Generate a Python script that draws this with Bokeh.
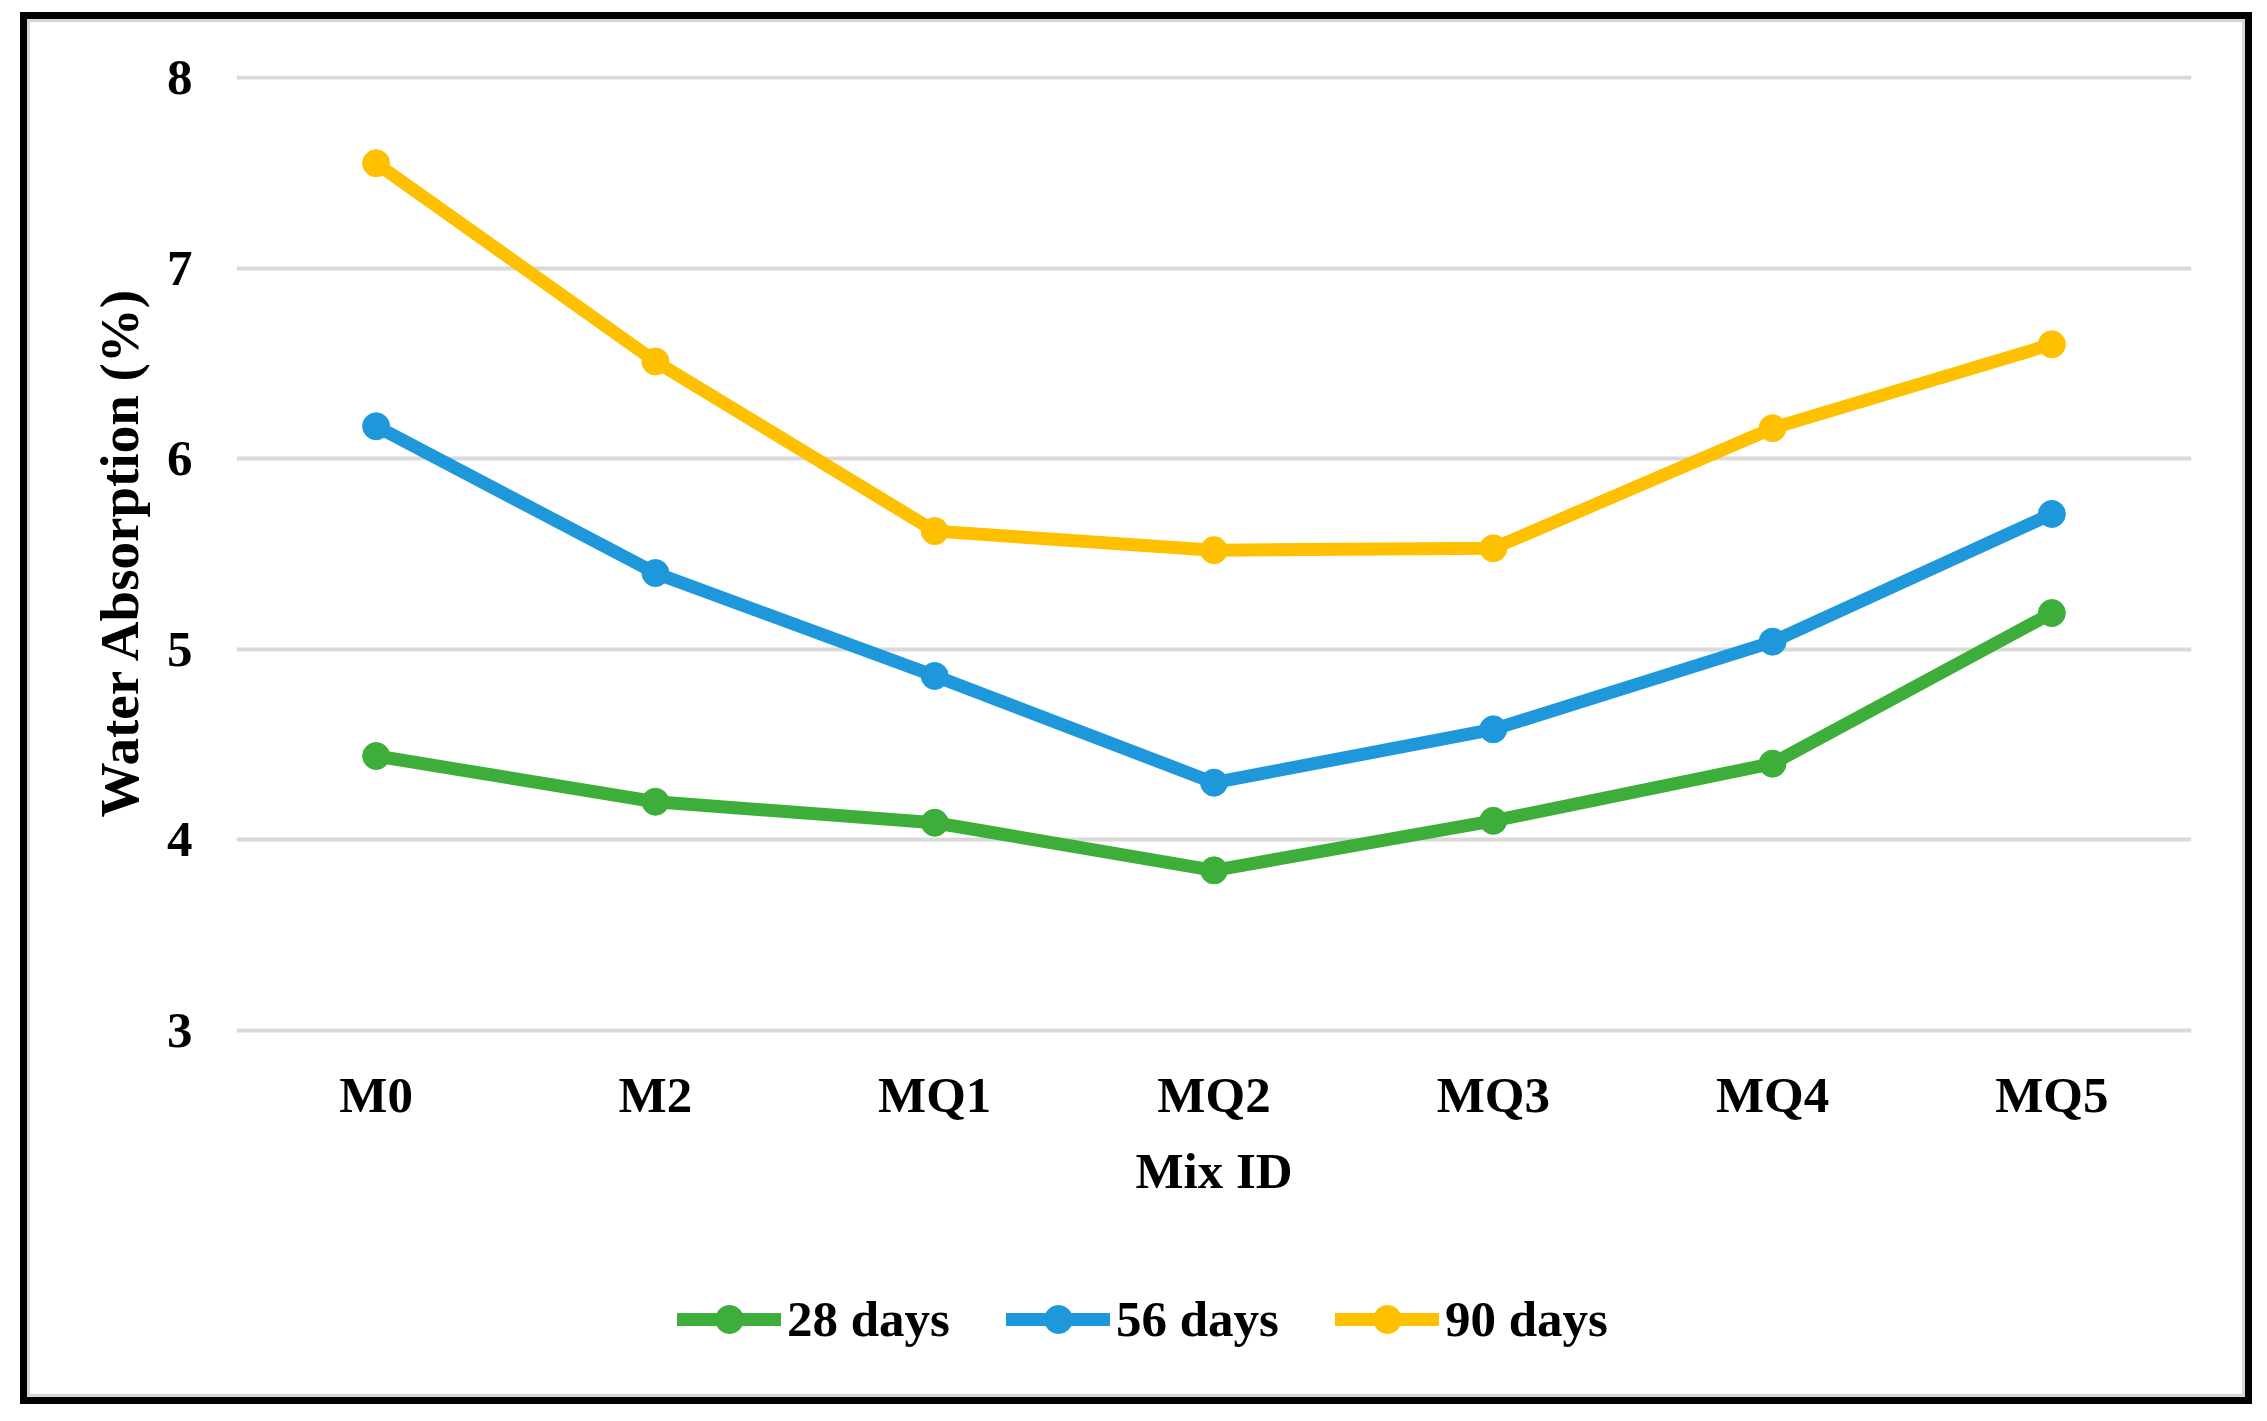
from bokeh.plotting import figure
from bokeh.models import Range1d, FactorRange, Legend, LegendItem, FixedTicker, ColumnDataSource, Title
from bokeh.embed import file_html
from bokeh.resources import INLINE

# ---- data ----
mix_ids = ["M0", "M2", "MQ1", "MQ2", "MQ3", "MQ4", "MQ5"]
days_28 = [4.44, 4.20, 4.09, 3.84, 4.10, 4.40, 5.19]
days_56 = [6.17, 5.40, 4.86, 4.30, 4.58, 5.04, 5.71]
days_90 = [7.55, 6.51, 5.62, 5.52, 5.53, 6.16, 6.60]
series_labels = ["28 days", "56 days", "90 days"]
y_ticks = [3, 4, 5, 6, 7, 8]

colors = ["#3DAE3A", "#1E98DA", "#FFC000"]
FONT = "Liberation Serif"

W, H = 2232, 1392
p = figure(
    width=W, height=H,
    x_range=FactorRange(*mix_ids, range_padding=0),
    y_range=Range1d(1.111, 8.0105),
    output_backend="svg", toolbar_location=None,
    min_border_left=216, min_border_right=61,
    min_border_top=63, min_border_bottom=14,
)
p.styles = {
    "margin-left": "20px",
    "margin-top": "12px",
    "background-color": "white",
    "box-shadow": "inset 0 0 0 10px #d6d6d6",
    "outline": "7px solid black",
    "outline-offset": "-7px",
}
p.border_fill_color = None
p.background_fill_color = "white"
p.outline_line_color = None

# grid
p.xgrid.grid_line_color = None
p.ygrid.grid_line_color = "#d9d9d9"
p.ygrid.grid_line_width = 4
p.yaxis.ticker = FixedTicker(ticks=y_ticks)

for ax in (p.xaxis, p.yaxis):
    ax.axis_line_color = None
    ax.major_tick_line_color = None
    ax.minor_tick_line_color = None
    ax.major_tick_in = 0
    ax.major_tick_out = 0
    ax.major_label_text_font = FONT
    ax.major_label_text_font_style = "bold"
    ax.major_label_text_font_size = "51px"
    ax.major_label_text_color = "black"
    ax.axis_label_text_font = FONT
    ax.axis_label_text_font_style = "bold"
    ax.axis_label_text_color = "black"

# x axis drawn at y = 3 inside the frame
p.xaxis.fixed_location = 3
p.xaxis.major_label_standoff = 37
p.xaxis.axis_label = "Mix ID"
p.xaxis.axis_label_text_font_size = "51px"
p.xaxis.axis_label_standoff = 16

p.yaxis.major_label_standoff = 44

# y axis title as a left-side title, positioned along the 3..8 span
p.add_layout(Title(text="Water Absorption (%)", align="left", offset=573,
                   text_font=FONT, text_font_style="bold",
                   text_font_size="55px", text_color="black", standoff=28),
             "left")

items = []
for label, vals, col in zip(series_labels, [days_28, days_56, days_90], colors):
    src = ColumnDataSource(dict(x=mix_ids, y=vals))
    ln = p.line("x", "y", source=src, line_color=col, line_width=13,
                line_join="round", line_cap="round")
    sc = p.scatter("x", "y", source=src, size=27, fill_color=col,
                   line_color=col, marker="circle")
    items.append(LegendItem(label=label, renderers=[ln, sc]))

legend = Legend(
    items=items, orientation="horizontal",
    location=(441, 36),
    glyph_width=104, glyph_height=70,
    label_standoff=6, spacing=56, padding=0, margin=0,
    label_text_font=FONT, label_text_font_style="bold",
    label_text_font_size="51px", label_text_color="black",
    border_line_color=None, background_fill_alpha=0,
)
p.add_layout(legend, "center")

open("out.html", "w").write(file_html(p, INLINE))
